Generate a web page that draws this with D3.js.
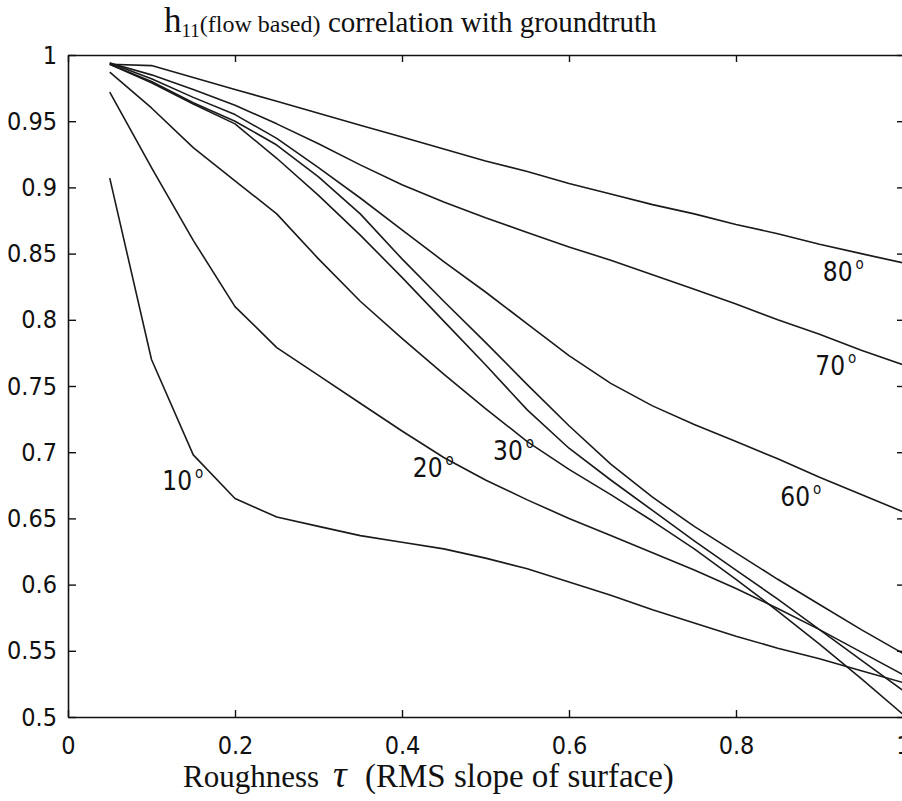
<!DOCTYPE html>
<html>
<head>
<meta charset="utf-8">
<script src="https://cdn.jsdelivr.net/npm/d3@7"></script>
<style>
  html, body { margin: 0; padding: 0; background: #fff; }
  svg { display: block; }
  .tick text { font-family: "Liberation Sans Narrow", "Arial Narrow", "DejaVu Sans Condensed", sans-serif; font-size: 25px; fill: #111; }
  .serif { font-family: "Liberation Serif", "DejaVu Serif", serif; fill: #111; }
  .lab { font-family: "Liberation Sans Narrow", "Arial Narrow", "DejaVu Sans Condensed", sans-serif; font-size: 26px; fill: #111; }
</style>
</head>
<body>
<svg id="chart" width="902" height="801"></svg>
<script>
// ---- data ----
const roughness = [0.05, 0.1, 0.15, 0.2, 0.25, 0.3, 0.35, 0.4, 0.45, 0.5,
                   0.55, 0.6, 0.65, 0.7, 0.75, 0.8, 0.85, 0.9, 0.95, 1.0];
const deg10 = [0.907, 0.770, 0.698, 0.665, 0.651, 0.644, 0.637, 0.632, 0.627, 0.620,
               0.612, 0.602, 0.592, 0.581, 0.571, 0.561, 0.552, 0.544, 0.535, 0.526];
const deg20 = [0.972, 0.915, 0.860, 0.810, 0.779, 0.758, 0.737, 0.716, 0.696, 0.679,
               0.664, 0.650, 0.637, 0.624, 0.611, 0.597, 0.582, 0.566, 0.549, 0.532];
const deg30 = [0.987, 0.960, 0.930, 0.905, 0.880, 0.846, 0.814, 0.786, 0.759, 0.733,
               0.708, 0.687, 0.668, 0.648, 0.627, 0.604, 0.580, 0.555, 0.529, 0.502];
const deg40 = [0.993, 0.979, 0.963, 0.948, 0.922, 0.894, 0.864, 0.832, 0.799, 0.766,
               0.732, 0.703, 0.679, 0.656, 0.633, 0.611, 0.589, 0.566, 0.543, 0.520];
const deg50 = [0.993, 0.980, 0.964, 0.950, 0.932, 0.908, 0.880, 0.846, 0.814, 0.783,
               0.751, 0.720, 0.691, 0.666, 0.644, 0.624, 0.604, 0.585, 0.566, 0.548];
const deg60 = [0.994, 0.982, 0.968, 0.955, 0.937, 0.915, 0.892, 0.868, 0.844, 0.821,
               0.797, 0.773, 0.752, 0.735, 0.721, 0.708, 0.695, 0.681, 0.668, 0.655];
const deg70 = [0.994, 0.985, 0.974, 0.962, 0.948, 0.933, 0.917, 0.902, 0.889, 0.877,
               0.866, 0.855, 0.845, 0.834, 0.823, 0.812, 0.800, 0.789, 0.777, 0.766];
const deg80 = [0.993, 0.992, 0.983, 0.974, 0.965, 0.956, 0.947, 0.938, 0.929, 0.920,
               0.912, 0.903, 0.895, 0.887, 0.880, 0.872, 0.865, 0.857, 0.850, 0.843];
const seriesList = [deg10, deg20, deg30, deg40, deg50, deg60, deg70, deg80];

const xTicks = [0, 0.2, 0.4, 0.6, 0.8, 1];
const xTickLabels = ["0", "0.2", "0.4", "0.6", "0.8", "1"];
const yTicks = [0.5, 0.55, 0.6, 0.65, 0.7, 0.75, 0.8, 0.85, 0.9, 0.95, 1];
const yTickLabels = ["0.5", "0.55", "0.6", "0.65", "0.7", "0.75", "0.8", "0.85", "0.9", "0.95", "1"];

// curve labels (text, anchor position in data units)
const curveLabelText = ["80", "70", "60", "30", "20", "10"];
const curveLabelX = [0.904, 0.895, 0.853, 0.509, 0.413, 0.113];
const curveLabelY = [0.829, 0.758, 0.659, 0.694, 0.681, 0.6715];

// ---- chart ----
const svg = d3.select("#chart");
const L = 68, R = 903, T = 55, B = 717;
const x = d3.scaleLinear().domain([0, 1]).range([L, R]);
const y = d3.scaleLinear().domain([0.5, 1]).range([B, T]);

const line = d3.line().x((d, i) => x(roughness[i])).y(d => y(d));
svg.append("g").selectAll("path").data(seriesList).join("path")
  .attr("d", d => line(d))
  .attr("fill", "none").attr("stroke", "#1a1a1a").attr("stroke-width", 1.6)
  .attr("stroke-linejoin", "round");

function styleAxis(g) {
  g.selectAll(".domain").attr("stroke", "#111").attr("stroke-width", 1.6);
  g.selectAll(".tick line").attr("stroke", "#111").attr("stroke-width", 1.4);
}
svg.append("g").attr("transform", `translate(0,${B})`)
  .call(d3.axisBottom(x).tickValues(xTicks).tickFormat((d, i) => xTickLabels[i])
        .tickSizeInner(-7).tickSizeOuter(0).tickPadding(19))
  .call(styleAxis);
svg.append("g").attr("transform", `translate(0,${T})`)
  .call(d3.axisTop(x).tickValues(xTicks).tickFormat("").tickSizeInner(-7).tickSizeOuter(0))
  .call(styleAxis);
svg.append("g").attr("transform", `translate(${L},0)`)
  .call(d3.axisLeft(y).tickValues(yTicks).tickFormat((d, i) => yTickLabels[i])
        .tickSizeInner(-8).tickSizeOuter(0).tickPadding(11))
  .call(styleAxis);
svg.append("g").attr("transform", `translate(${R},0)`)
  .call(d3.axisRight(y).tickValues(yTicks).tickFormat("").tickSizeInner(-6).tickSizeOuter(0))
  .call(styleAxis);
svg.selectAll(".tick text").attr("fill", "#111");

// curve labels
const labs = svg.append("g").selectAll("text").data(curveLabelText).join("text")
  .attr("class", "lab")
  .attr("x", (d, i) => x(curveLabelX[i]))
  .attr("y", (d, i) => y(curveLabelY[i]));
labs.append("tspan").text(d => d);
labs.append("tspan").attr("font-size", 15).attr("dx", 3).attr("dy", -12).text("o");

// title
const title = svg.append("text").attr("class", "serif").attr("x", 164).attr("y", 32);
title.append("tspan").attr("font-size", 35).text("h");
title.append("tspan").attr("font-size", 19).attr("dy", 5).text("11");
title.append("tspan").attr("font-size", 24).attr("dy", -5).text("(flow based)");
title.append("tspan").attr("x", 328).attr("font-size", 29).text("correlation with groundtruth");

// x label
const xl = svg.append("text").attr("class", "serif").attr("y", 787).attr("font-size", 33);
xl.append("tspan").attr("x", 183).attr("font-size", 31).text("Roughness");
xl.append("tspan").attr("x", 333).attr("font-style", "italic").attr("font-size", 38).text("τ");
xl.append("tspan").attr("x", 365).text("(RMS slope of surface)");
</script>
</body>
</html>
